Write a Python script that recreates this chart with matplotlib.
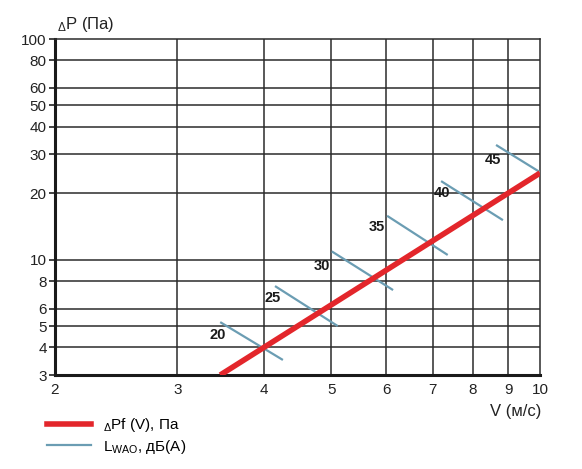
import matplotlib
matplotlib.use("Agg")
import matplotlib.pyplot as plt
from matplotlib.lines import Line2D

plt.rcParams['font.family'] = ['Liberation Sans', 'DejaVu Sans']
plt.rcParams['mathtext.fontset'] = 'custom'
plt.rcParams['mathtext.rm'] = 'Liberation Sans'

# Data
x_ticks = [2, 3, 4, 5, 6, 7, 8, 9, 10]
y_ticks = [3, 4, 5, 6, 8, 10, 20, 30, 40, 50, 60, 80, 100]

pf_v = [3.46, 10.0]
pf_p = [3.0, 24.7]

noise_levels = [20, 25, 30, 35, 40, 45]
noise_x = [[3.46, 4.26], [4.15, 5.11], [5.01, 6.14], [6.02, 7.36], [7.20, 8.84], [8.64, 10.0]]
noise_y = [[5.21, 3.51], [7.59, 5.00], [10.9, 7.28], [15.8, 10.5], [22.7, 15.1], [33.1, 24.9]]
label_x = [3.43, 4.12, 4.85, 5.82, 7.22, 8.55]
label_y = [4.55, 6.70, 9.35, 14.1, 20.0, 28.3]

red = '#e3262b'
blue = '#6b9db3'
gridc = '#2b2b2b'

fig = plt.figure(figsize=(5.82, 4.69), dpi=100)
ax = fig.add_axes([0.0945, 0.2004, 0.8335, 0.7164])
ax.set_xscale('log')
ax.set_yscale('log')
ax.set_xlim(2, 10)
ax.set_ylim(3, 100)

ax.set_xticks(x_ticks)
ax.set_xticklabels([str(v) for v in x_ticks])
ax.set_yticks(y_ticks)
ax.set_yticklabels([str(v) for v in y_ticks])
ax.minorticks_off()
ax.tick_params(axis='x', length=0, pad=6, labelsize=11, colors='#222222')
ax.tick_params(axis='y', length=4, width=1.2, pad=2, labelsize=11, colors='#222222')

for v in x_ticks[1:-1]:
    ax.axvline(v, color=gridc, lw=1.1, zorder=1)
for v in y_ticks[1:-1]:
    ax.axhline(v, color=gridc, lw=1.1, zorder=1)

for s in ['left', 'bottom']:
    ax.spines[s].set_linewidth(2.2)
    ax.spines[s].set_color('#1a1a1a')
for s in ['top', 'right']:
    ax.spines[s].set_linewidth(1.1)
    ax.spines[s].set_color(gridc)

for xs, ys in zip(noise_x, noise_y):
    ax.plot(xs, ys, color=blue, lw=1.6, zorder=3, solid_capstyle='butt')
for lv, lx, ly in zip(noise_levels, label_x, label_y):
    ax.text(lx, ly, str(lv), fontsize=10.5, fontweight='bold', ha='center', va='center',
            color='#1a1a1a', zorder=5)

ax.plot(pf_v, pf_p, color=red, lw=4, zorder=4, solid_capstyle='butt')

fig.text(0.098, 0.938, r"$\mathregular{_\Delta}$P (Па)", fontsize=12, ha='left', va='baseline',
         color='#222222')
fig.text(0.931, 0.113, "V (м/с)", fontsize=12, ha='right', va='baseline', color='#222222')

handles = [Line2D([0], [0], color=red, lw=4),
           Line2D([0], [0], color=blue, lw=1.6)]
labels = [r"$\mathregular{_\Delta}$Pf (V), Па", r"L$\mathregular{_{WAO}}$, дБ(А)"]
fig.legend(handles, labels, loc='upper left', bbox_to_anchor=(0.07, 0.125),
           frameon=False, fontsize=11, handlelength=2.9, handletextpad=0.8,
           labelspacing=0.2, borderaxespad=0)

fig.savefig('out.png', dpi=100)
